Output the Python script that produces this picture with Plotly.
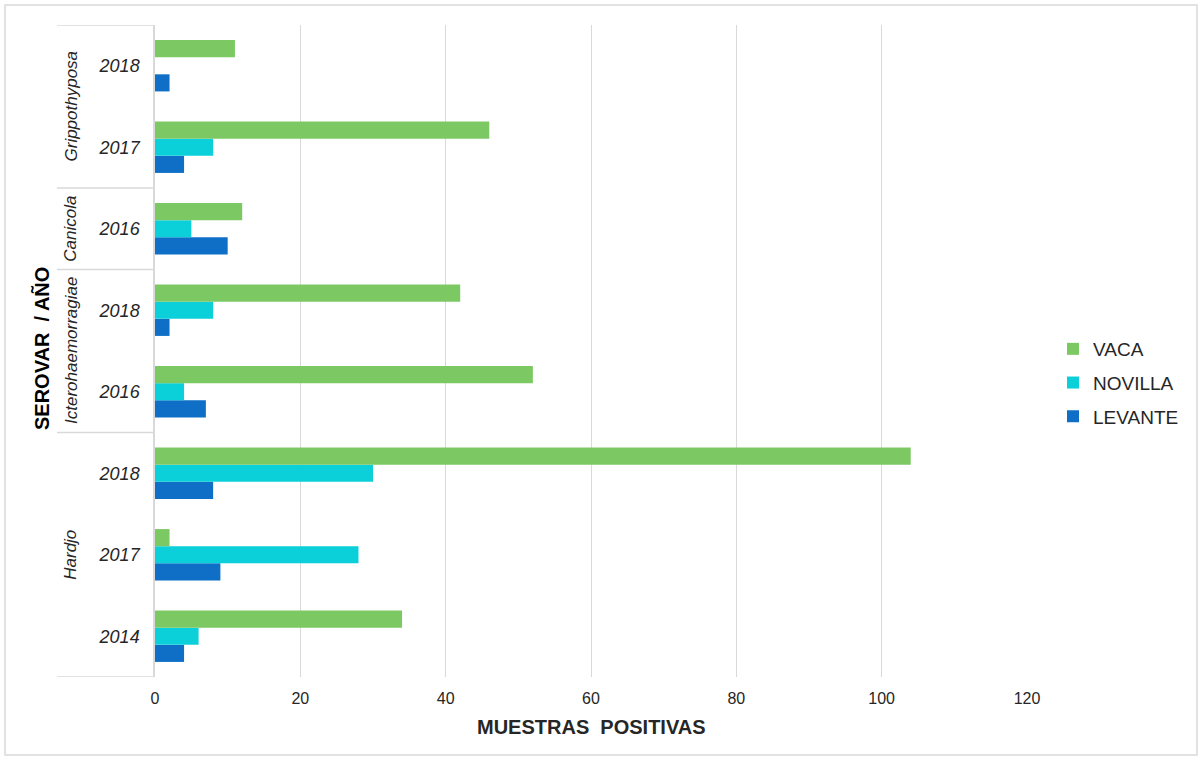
import plotly.graph_objects as go

# Serovar / year categories, listed bottom to top
serovar = ["Hardjo", "Hardjo", "Hardjo",
           "Icterohaemorragiae", "Icterohaemorragiae",
           "Canicola",
           "Grippothyposa", "Grippothyposa"]
anio = ["2014", "2017", "2018", "2016", "2018", "2016", "2017", "2018"]

levante = [4, 9, 8, 7, 2, 10, 4, 2]
novilla = [6, 28, 30, 4, 8, 5, 8, 0]
vaca = [34, 2, 104, 52, 42, 12, 46, 11]

x_ticks = [0, 20, 40, 60, 80, 100, 120]

colors = {"LEVANTE": "#0F6FC6", "NOVILLA": "#0BCFD9", "VACA": "#7CC964"}

pos = list(range(len(anio)))

fig = go.Figure()
series = [("LEVANTE", levante), ("NOVILLA", novilla), ("VACA", vaca)]
for k, (name, vals) in enumerate(series):
    fig.add_trace(go.Bar(
        y=pos, x=vals, name=name, orientation="h", legendgroup=name,
        legendrank=1000 - k,
        marker=dict(color=colors[name], line=dict(width=0)),
    ))

W_PX, H_PX = 872, 652
L_PX, T_PX = 155, 25


def px_x(px):
    return (px - L_PX) / W_PX


def px_y(py):
    return 1 - (py - T_PX) / H_PX


line_col = "#D9D9D9"
text_col = "#262626"
shapes = []
annotations = []

# Group the categories by serovar
groups = []
for i, s in enumerate(serovar):
    if groups and groups[-1][0] == s:
        groups[-1][1].append(i)
    else:
        groups.append([s, [i]])

bounds = [-0.5] + [g[1][-1] + 0.5 for g in groups]
for b in bounds:
    shapes.append(dict(type="line", xref="paper", yref="y",
                       x0=px_x(57), x1=0, y0=b, y1=b,
                       line=dict(color=line_col, width=1.5)))
for s, idx in groups:
    annotations.append(dict(
        text="<i>%s</i>" % s, xref="paper", yref="y",
        x=px_x(71), y=sum(idx) / len(idx), textangle=-90,
        showarrow=False, font=dict(size=17, color=text_col),
        xanchor="center", yanchor="middle"))

# Axis titles
annotations.append(dict(
    text="<b>SEROVAR  / AÑO</b>", xref="paper", yref="paper",
    x=px_x(42), y=px_y(349), textangle=-90, showarrow=False,
    font=dict(size=20, color="#000000"), xanchor="center", yanchor="middle"))
annotations.append(dict(
    text="<b>MUESTRAS  POSITIVAS</b>", xref="paper", yref="paper",
    x=0.5, y=px_y(727), showarrow=False,
    font=dict(size=20, color=text_col), xanchor="center", yanchor="middle"))

# Outer frame
shapes.append(dict(type="rect", xref="paper", yref="paper",
                   x0=px_x(5), x1=px_x(1197), y0=px_y(5), y1=px_y(755),
                   line=dict(color=line_col, width=1.5), layer="below"))

fig.update_layout(
    width=1203, height=760,
    margin=dict(l=L_PX, r=1203 - 1027, t=T_PX, b=760 - 677),
    paper_bgcolor="white", plot_bgcolor="white",
    barmode="group", bargap=0.37, bargroupgap=0,
    font=dict(family="Liberation Sans, Arial, sans-serif", color=text_col),
    xaxis=dict(range=[0, 120], tickvals=x_ticks, showgrid=True,
               gridcolor=line_col, gridwidth=1, zeroline=False,
               showline=False, tickfont=dict(size=16, color=text_col),
               ticks="", ticklabelstandoff=10),
    yaxis=dict(range=[-0.5, len(anio) - 0.5], tickvals=pos,
               ticktext=["<i>%s</i>" % a for a in anio],
               tickfont=dict(size=18, color=text_col),
               showgrid=False, zeroline=False, showline=True,
               linecolor=line_col, linewidth=1.5, ticks="",
               ticklabelstandoff=10),
    legend=dict(traceorder="grouped", x=px_x(1053), y=px_y(383),
                xanchor="left", yanchor="middle",
                font=dict(size=19, color=text_col),
                itemwidth=30, tracegroupgap=6),
    showlegend=True,
    shapes=shapes, annotations=annotations,
)

fig.write_html("out.html")
